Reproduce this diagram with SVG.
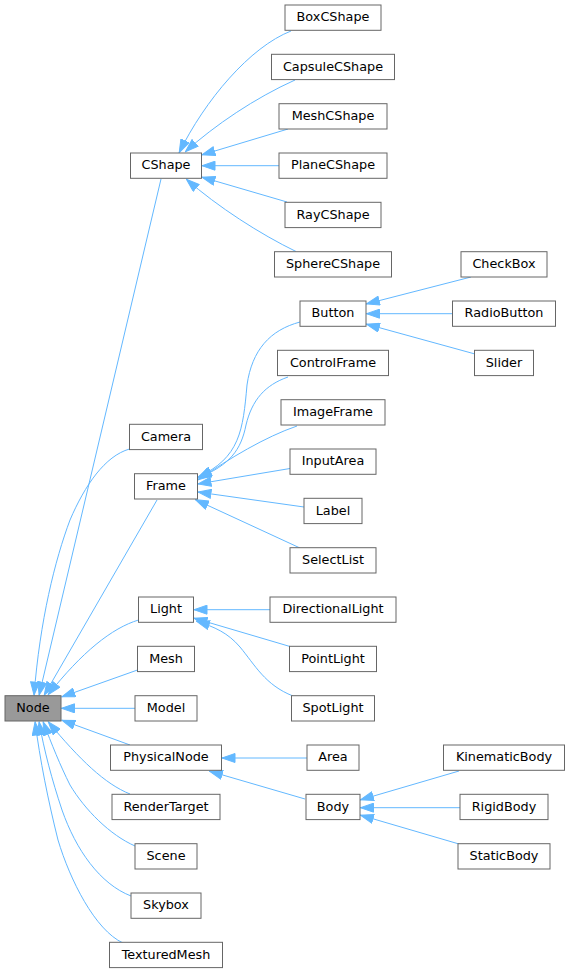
<svg xmlns="http://www.w3.org/2000/svg" width="571" height="973" viewBox="0 0 571 973">
<style>
.n rect{fill:#fff;stroke:#666;stroke-width:1}
.n text{font-family:"DejaVu Sans","Liberation Sans",sans-serif;font-size:12.8px;fill:#000;text-anchor:middle}
.root rect{fill:#999}
.e path{fill:none;stroke:#63b8ff;stroke-width:1;marker-end:url(#ah)}
</style>
<defs>
<marker id="ah" markerUnits="userSpaceOnUse" viewBox="0 0 14 10" markerWidth="14" markerHeight="10" refX="14" refY="5" orient="auto">
<path d="M0.5,0.5 L13.5,5 L0.5,9.5 z" fill="#63b8ff" stroke="#63b8ff" stroke-width="1"/>
</marker>
</defs>
<rect width="571" height="973" fill="#fff"/>
<g class="e" id="edges">
<path d="M291,31 C250,47 205,100 179,153"/>
<path d="M295,80 C255,98 215,125 185,152"/>
<path d="M288,129 L201.5,155"/>
<path d="M279,165.7 L201.5,165.7"/>
<path d="M287,202 L201.5,177"/>
<path d="M296,251.5 C260,234 218,207 186,179"/>
<path d="M471,277 L366,304"/>
<path d="M452.5,313.7 L366,313.7"/>
<path d="M475,354 L366,324"/>
<path d="M300,322 C270,330 252,350 247,385 C243,430 240,458 198,477"/>
<path d="M288,377 C265,385 252,400 246,425 C241,450 230,465 198,478"/>
<path d="M297,426 C265,437 230,458 198,480"/>
<path d="M290,468.5 L197.5,484"/>
<path d="M304,507 L197.5,492"/>
<path d="M300,548 L195,499.5"/>
<path d="M270,609.7 L193.5,609.7"/>
<path d="M290,646.5 L193.5,618"/>
<path d="M293,696 C265,685 255,665 240,647 C228,633 215,627 196,621"/>
<path d="M307,758 L221.5,758"/>
<path d="M305,799 L209,771"/>
<path d="M459,771 L360,800"/>
<path d="M460,807.7 L360,807.7"/>
<path d="M459,844 L360,815"/>
<path d="M161,179 L39,695.5"/>
<path d="M129.5,449 C105,456 85,485 70,520 C55,560 40,620 34,695.5"/>
<path d="M157,500 L44,695.5"/>
<path d="M138.5,620 C112,628 82,652 48,695"/>
<path d="M137.5,670 L61.5,697"/>
<path d="M135,708.3 L61,708.3"/>
<path d="M130,745 L61.5,720"/>
<path d="M130,794 C105,784 80,760 48,721.5"/>
<path d="M135,846 C110,835 85,810 70,785 C60,765 52,745 43,721.5"/>
<path d="M131,896 C100,884 76,850 62,810 C52,780 44,750 39,721.5"/>
<path d="M123,943 C95,930 70,880 58,840 C48,800 40,760 35,721.5"/>
</g>
<g class="n" id="BoxCShape"><rect x="285" y="5" width="96" height="25.3"/><text x="333" y="21.4">BoxCShape</text></g>
<g class="n" id="CapsuleCShape"><rect x="271.5" y="54.3" width="123" height="25.3"/><text x="333" y="70.7">CapsuleCShape</text></g>
<g class="n" id="MeshCShape"><rect x="279" y="103.7" width="108" height="25.3"/><text x="333" y="120.1">MeshCShape</text></g>
<g class="n" id="PlaneCShape"><rect x="279" y="153" width="108" height="25.3"/><text x="333" y="169.4">PlaneCShape</text></g>
<g class="n" id="CShape"><rect x="130.5" y="153" width="71" height="25.3"/><text x="166" y="169.4">CShape</text></g>
<g class="n" id="RayCShape"><rect x="285" y="202.3" width="96" height="25.3"/><text x="333" y="218.7">RayCShape</text></g>
<g class="n" id="SphereCShape"><rect x="274.5" y="251.7" width="117" height="25.3"/><text x="333" y="268.1">SphereCShape</text></g>
<g class="n" id="CheckBox"><rect x="461" y="251.7" width="86" height="25.3"/><text x="504" y="268.1">CheckBox</text></g>
<g class="n" id="Button"><rect x="300" y="301" width="66" height="25.3"/><text x="333" y="317.4">Button</text></g>
<g class="n" id="RadioButton"><rect x="452.5" y="301" width="103" height="25.3"/><text x="504" y="317.4">RadioButton</text></g>
<g class="n" id="ControlFrame"><rect x="277.5" y="350.3" width="111" height="25.3"/><text x="333" y="366.7">ControlFrame</text></g>
<g class="n" id="Slider"><rect x="474.5" y="350.3" width="59" height="25.3"/><text x="504" y="366.7">Slider</text></g>
<g class="n" id="ImageFrame"><rect x="281" y="399.7" width="104" height="25.3"/><text x="333" y="416.1">ImageFrame</text></g>
<g class="n" id="Camera"><rect x="129.5" y="424.3" width="73" height="25.3"/><text x="166" y="440.7">Camera</text></g>
<g class="n" id="InputArea"><rect x="290" y="449" width="86" height="25.3"/><text x="333" y="465.4">InputArea</text></g>
<g class="n" id="Frame"><rect x="134.5" y="473.7" width="63" height="25.3"/><text x="166" y="490.1">Frame</text></g>
<g class="n" id="Label"><rect x="304" y="498.3" width="58" height="25.3"/><text x="333" y="514.7">Label</text></g>
<g class="n" id="SelectList"><rect x="290" y="547.7" width="86" height="25.3"/><text x="333" y="564.1">SelectList</text></g>
<g class="n" id="Light"><rect x="138.5" y="597" width="55" height="25.3"/><text x="166" y="613.4">Light</text></g>
<g class="n" id="DirectionalLight"><rect x="270" y="597" width="126" height="25.3"/><text x="333" y="613.4">DirectionalLight</text></g>
<g class="n" id="Mesh"><rect x="137.5" y="646.3" width="57" height="25.3"/><text x="166" y="662.7">Mesh</text></g>
<g class="n" id="PointLight"><rect x="289.5" y="646.3" width="87" height="25.3"/><text x="333" y="662.7">PointLight</text></g>
<g class="n root" id="Node"><rect x="5" y="695.7" width="56" height="25.3"/><text x="33" y="712.1">Node</text></g>
<g class="n" id="Model"><rect x="135" y="695.7" width="62" height="25.3"/><text x="166" y="712.1">Model</text></g>
<g class="n" id="SpotLight"><rect x="291.5" y="695.7" width="83" height="25.3"/><text x="333" y="712.1">SpotLight</text></g>
<g class="n" id="PhysicalNode"><rect x="110.5" y="745" width="111" height="25.3"/><text x="166" y="761.4">PhysicalNode</text></g>
<g class="n" id="Area"><rect x="307" y="745" width="52" height="25.3"/><text x="333" y="761.4">Area</text></g>
<g class="n" id="KinematicBody"><rect x="443.5" y="745" width="121" height="25.3"/><text x="504" y="761.4">KinematicBody</text></g>
<g class="n" id="RenderTarget"><rect x="112" y="794.3" width="108" height="25.3"/><text x="166" y="810.7">RenderTarget</text></g>
<g class="n" id="Body"><rect x="306" y="794.3" width="54" height="25.3"/><text x="333" y="810.7">Body</text></g>
<g class="n" id="RigidBody"><rect x="460" y="794.3" width="88" height="25.3"/><text x="504" y="810.7">RigidBody</text></g>
<g class="n" id="Scene"><rect x="135" y="843.7" width="62" height="25.3"/><text x="166" y="860.1">Scene</text></g>
<g class="n" id="StaticBody"><rect x="458" y="843.7" width="92" height="25.3"/><text x="504" y="860.1">StaticBody</text></g>
<g class="n" id="Skybox"><rect x="131" y="893" width="70" height="25.3"/><text x="166" y="909.4">Skybox</text></g>
<g class="n" id="TexturedMesh"><rect x="109.5" y="942.3" width="113" height="25.3"/><text x="166" y="958.7">TexturedMesh</text></g>
</svg>
